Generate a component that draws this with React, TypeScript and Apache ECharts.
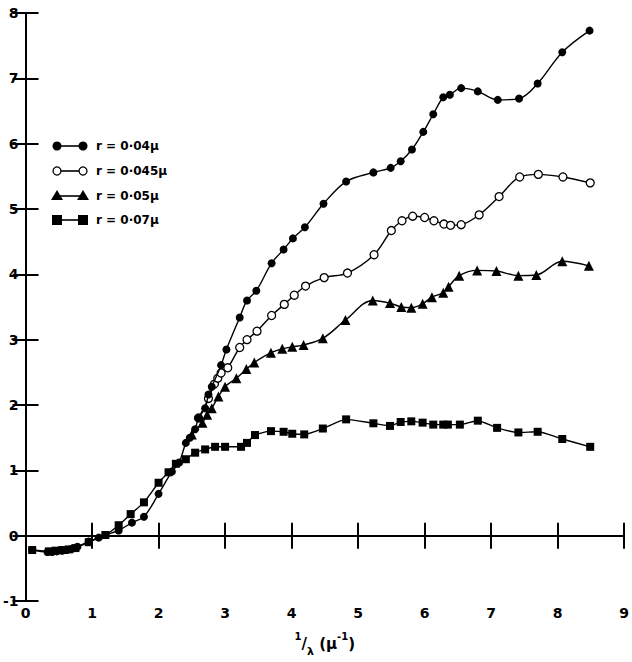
import React, { useEffect, useRef } from "react";
import * as echarts from "echarts";

const xTicks = [0, 1, 2, 3, 4, 5, 6, 7, 8, 9];
const yTicks = [-1, 0, 1, 2, 3, 4, 5, 6, 7, 8];

const legendNames = ["r = 0·04μ", "r = 0·045μ", "r = 0·05μ", "r = 0·07μ"];

const xA = [0.1, 0.33, 0.4, 0.47, 0.55, 0.62, 0.7, 0.78, 0.95, 1.1, 1.2, 1.4, 1.6, 1.78, 2.0, 2.2, 2.31, 2.41, 2.47, 2.55, 2.6, 2.7, 2.75, 2.8, 2.94, 3.02, 3.22, 3.33, 3.47, 3.7, 3.88, 4.02, 4.2, 4.48, 4.82, 5.23, 5.49, 5.64, 5.81, 5.98, 6.13, 6.28, 6.38, 6.55, 6.8, 7.1, 7.42, 7.7, 8.07, 8.48];
const yA = [-0.22, -0.25, -0.25, -0.24, -0.23, -0.22, -0.2, -0.17, -0.09, -0.03, 0.01, 0.08, 0.2, 0.29, 0.64, 0.98, 1.12, 1.42, 1.5, 1.63, 1.8, 1.95, 2.16, 2.28, 2.61, 2.85, 3.34, 3.6, 3.75, 4.17, 4.38, 4.55, 4.72, 5.08, 5.42, 5.56, 5.63, 5.73, 5.91, 6.18, 6.45, 6.71, 6.75, 6.85, 6.8, 6.67, 6.69, 6.92, 7.4, 7.73];

const xB = [2.6, 2.75, 2.84, 2.89, 2.94, 3.04, 3.22, 3.33, 3.48, 3.7, 3.89, 4.04, 4.21, 4.49, 4.84, 5.24, 5.5, 5.66, 5.82, 6.0, 6.14, 6.29, 6.39, 6.55, 6.82, 7.12, 7.43, 7.71, 8.08, 8.49];
const yB = [1.8, 2.1, 2.32, 2.41, 2.49, 2.57, 2.88, 3.0, 3.13, 3.37, 3.54, 3.68, 3.82, 3.95, 4.02, 4.3, 4.67, 4.82, 4.89, 4.87, 4.82, 4.77, 4.75, 4.76, 4.91, 5.19, 5.49, 5.53, 5.49, 5.4];

const xC = [2.5, 2.66, 2.73, 2.8, 2.9, 3.0, 3.17, 3.32, 3.44, 3.69, 3.86, 4.01, 4.18, 4.47, 4.81, 5.22, 5.48, 5.65, 5.8, 5.97, 6.11, 6.28, 6.36, 6.52, 6.79, 7.08, 7.41, 7.68, 8.07, 8.47];
const yC = [1.55, 1.73, 1.85, 1.95, 2.13, 2.28, 2.41, 2.55, 2.65, 2.8, 2.86, 2.89, 2.92, 3.02, 3.3, 3.6, 3.56, 3.5, 3.49, 3.55, 3.65, 3.72, 3.81, 3.98, 4.06, 4.05, 3.98, 3.99, 4.2, 4.13];

const xD = [0.1, 0.35, 0.45, 0.55, 0.65, 0.75, 0.95, 1.2, 1.4, 1.58, 1.78, 2.0, 2.15, 2.26, 2.41, 2.55, 2.7, 2.85, 3.0, 3.24, 3.33, 3.45, 3.69, 3.88, 4.01, 4.19, 4.47, 4.82, 5.23, 5.48, 5.64, 5.8, 5.97, 6.13, 6.28, 6.35, 6.53, 6.8, 7.09, 7.41, 7.7, 8.07, 8.49];
const yD = [-0.22, -0.24, -0.23, -0.22, -0.21, -0.19, -0.1, 0.01, 0.16, 0.33, 0.51, 0.81, 0.97, 1.1, 1.17, 1.27, 1.32, 1.36, 1.36, 1.36, 1.42, 1.54, 1.6, 1.59, 1.56, 1.55, 1.64, 1.78, 1.72, 1.68, 1.74, 1.75, 1.73, 1.7, 1.7, 1.7, 1.7, 1.76, 1.65, 1.58, 1.59, 1.48, 1.36];

const pairs = (xs: number[], ys: number[]) => xs.map((x, i) => [x, ys[i]]);

export default function App() {
  const ref = useRef<HTMLDivElement>(null);
  useEffect(() => {
    if (!ref.current) return;
    const chart = echarts.init(ref.current, undefined, { renderer: "svg" });
    const font = "DejaVu Sans";
    const lineStyle = { color: "#000", width: 1.4 };
    const axisCommon = {
      type: "value" as const,
      min: -1,
      max: 8,
      interval: 1,
    };
    const legendY = [146, 171, 196, 220];
    const lx1 = 57;
    const lx2 = 83;
    const legendGraphics: any[] = [];
    legendY.forEach((y, i) => {
      legendGraphics.push({
        type: "line",
        shape: { x1: lx1, y1: y, x2: lx2, y2: y },
        style: { stroke: "#000", lineWidth: 1.6 },
      });
      [lx1, lx2].forEach((cx) => {
        if (i === 0) {
          legendGraphics.push({ type: "circle", shape: { cx, cy: y, r: 4.5 }, style: { fill: "#000" } });
        } else if (i === 1) {
          legendGraphics.push({ type: "circle", shape: { cx, cy: y, r: 4 }, style: { fill: "#fff", stroke: "#000", lineWidth: 1.3 } });
        } else if (i === 2) {
          legendGraphics.push({ type: "polygon", shape: { points: [[cx, y - 6], [cx - 6, y + 4], [cx + 6, y + 4]] }, style: { fill: "#000" } });
        } else {
          legendGraphics.push({ type: "rect", shape: { x: cx - 5, y: y - 5, width: 10, height: 10 }, style: { fill: "#000" } });
        }
      });
      legendGraphics.push({
        type: "text",
        x: 96,
        y: y,
        style: {
          text: legendNames[i],
          font: `bold 12px "${font}"`,
          fill: "#000",
          verticalAlign: "middle",
          textAlign: "left",
        },
      });
    });

    chart.setOption({
      animation: false,
      backgroundColor: "#fff",
      grid: { left: 24, top: 13, right: 2, bottom: 56 },
      xAxis: [
        {
          type: "value",
          min: 0,
          max: 9,
          interval: 1,
          position: "bottom",
          axisLine: { show: true, lineStyle: { color: "#000", width: 2 } },
          axisTick: { show: true, inside: true, length: 13, lineStyle: { color: "#000", width: 2 } },
          axisLabel: {
            show: true,
            color: "#000",
            fontFamily: font,
            fontWeight: "bold",
            fontSize: 14,
            margin: 5,
            formatter: (v: number) => (xTicks.includes(v) ? String(v) : ""),
          },
          splitLine: { show: false },
          name: "{sup|1}{n|/}{sub|λ}{n| (μ}{sup|-1}{n|)}",
          nameLocation: "middle",
          nameGap: 30,
          nameTextStyle: {
            rich: {
              n: { fontFamily: font, fontWeight: "bold", fontSize: 15, color: "#000", lineHeight: 26, verticalAlign: "middle" },
              sup: { fontFamily: font, fontWeight: "bold", fontSize: 10, color: "#000", lineHeight: 26, verticalAlign: "top" },
              sub: { fontFamily: font, fontWeight: "bold", fontSize: 11, color: "#000", lineHeight: 26, verticalAlign: "bottom" },
            },
          },
        },
        {
          type: "value",
          min: 0,
          max: 9,
          interval: 1,
          position: "top",
          axisLine: { show: true, lineStyle: { color: "#000", width: 2 } },
          axisTick: { show: true, inside: true, length: 13, lineStyle: { color: "#000", width: 2 } },
          axisLabel: { show: false },
          splitLine: { show: false },
        },
      ],
      yAxis: [
        {
          ...axisCommon,
          position: "left",
          axisLine: { show: true, lineStyle: { color: "#000", width: 2 } },
          axisTick: { show: true, inside: true, length: 13, lineStyle: { color: "#000", width: 2 } },
          axisLabel: {
            show: true,
            color: "#000",
            fontFamily: font,
            fontWeight: "bold",
            fontSize: 14,
            margin: 7,
            formatter: (v: number) => (yTicks.includes(v) ? String(v) : ""),
          },
          splitLine: { show: false },
        },
        {
          ...axisCommon,
          position: "right",
          axisLine: { show: true, lineStyle: { color: "#000", width: 2 } },
          axisTick: { show: true, inside: true, length: 13, lineStyle: { color: "#000", width: 2 } },
          axisLabel: { show: false },
          splitLine: { show: false },
        },
      ],
      series: [
        {
          name: legendNames[0],
          type: "line",
          data: pairs(xA, yA),
          smooth: 0.35,
          symbol: "circle",
          symbolSize: 8,
          showAllSymbol: true,
          lineStyle,
          itemStyle: { color: "#000" },
          z: 5,
        },
        {
          name: legendNames[1],
          type: "line",
          data: pairs(xB, yB),
          smooth: 0.35,
          symbol: "circle",
          symbolSize: 8,
          showAllSymbol: true,
          lineStyle,
          itemStyle: { color: "#fff", borderColor: "#000", borderWidth: 1.3 },
          z: 2,
        },
        {
          name: legendNames[2],
          type: "line",
          data: pairs(xC, yC),
          smooth: 0.35,
          symbol: "triangle",
          symbolSize: 10,
          showAllSymbol: true,
          lineStyle,
          itemStyle: { color: "#000" },
          z: 3,
        },
        {
          name: legendNames[3],
          type: "line",
          data: pairs(xD, yD),
          smooth: 0.2,
          symbol: "rect",
          symbolSize: 8,
          showAllSymbol: true,
          lineStyle,
          itemStyle: { color: "#000" },
          z: 4,
        },
      ],
      graphic: legendGraphics,
    });
    return () => chart.dispose();
  }, []);
  return (
    <div
      ref={ref}
      style={{ position: "fixed", left: 0, top: 0, width: 632, height: 662, background: "#fff" }}
    />
  );
}
